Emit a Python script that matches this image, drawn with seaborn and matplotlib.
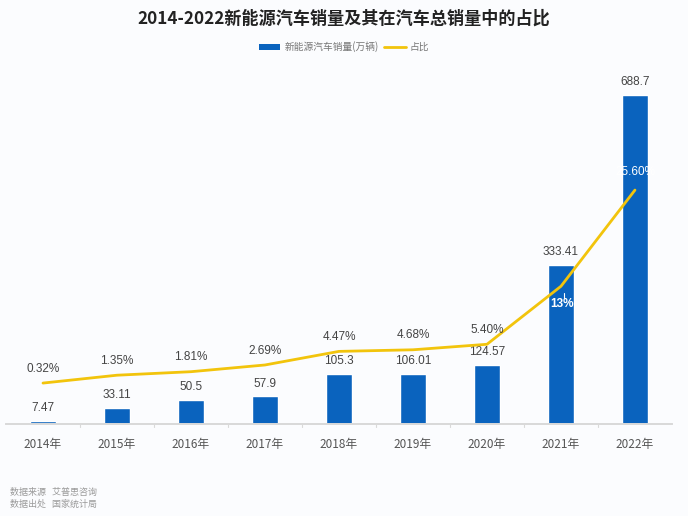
import numpy as np
import pandas as pd
import matplotlib
matplotlib.use("Agg")
import matplotlib.pyplot as plt
import seaborn as sns
from matplotlib.patches import Patch
from matplotlib.lines import Line2D

years = ["2014年", "2015年", "2016年", "2017年", "2018年", "2019年", "2020年", "2021年", "2022年"]
sales = [7.47, 33.11, 50.5, 57.9, 105.3, 106.01, 124.57, 333.41, 688.7]
sales_labels = ["7.47", "33.11", "50.5", "57.9", "105.3", "106.01", "124.57", "333.41", "688.7"]
share = [0.32, 1.35, 1.81, 2.69, 4.47, 4.68, 5.40, 13.0, 25.60]
share_labels = ["0.32%", "1.35%", "1.81%", "2.69%", "4.47%", "4.68%", "5.40%", "13%", "25.60%"]

sns.set_theme(style="white")
plt.rcParams['font.family'] = ['Noto Sans CJK SC', 'DejaVu Sans']
num_font = ['Liberation Sans', 'Noto Sans CJK SC']

bg = "#fbfcfe"
blue = "#0a63be"
yellow = "#f2c40c"

fig = plt.figure(figsize=(6.88, 5.16), dpi=100, facecolor=bg)
ax = fig.add_axes([0.0087, 0.178, 0.968, 0.686], facecolor=bg)

df = pd.DataFrame({"year": years, "sales": sales})
sns.barplot(data=df, x="year", y="sales", color=blue, width=0.34, saturation=1, ax=ax)
ax.set_ylim(0, 741)
ax.set_xlim(-0.5, len(years) - 0.5)
for i, (v, t) in enumerate(zip(sales, sales_labels)):
    ax.annotate(t, (i, v), xytext=(0, 5), textcoords="offset points",
                ha="center", va="bottom", fontsize=8.5, color="#444444", family=num_font)

ax2 = ax.twinx()
sns.lineplot(x=np.arange(len(years)), y=share, color=yellow, linewidth=2, ax=ax2)
ax2.set_ylim(-5.06, 41.3)
for i, (v, t) in enumerate(zip(share, share_labels)):
    if i == 7:
        ax2.annotate(t, (i, v), xytext=(1, -13), textcoords="offset points",
                     ha="center", va="center", fontsize=8.5, color="white",
                     fontweight="bold", family=num_font)
        ax2.plot([i + 0.04, i + 0.04], [v - 0.9, v - 1.6], color="white", lw=0.8)
    elif i == 8:
        ax2.annotate(t, (i, v), xytext=(0, 13), textcoords="offset points",
                     ha="center", va="center", fontsize=8.5, color="white", family=num_font)
    else:
        ax2.annotate(t, (i, v), xytext=(0, 6), textcoords="offset points",
                     ha="center", va="bottom", fontsize=8.5, color="#444444", family=num_font)

for a in (ax, ax2):
    a.set_yticks([])
    a.set_ylabel("")
    for s in ("top", "left", "right"):
        a.spines[s].set_visible(False)
    a.spines["bottom"].set_color("#d9d9d9")
ax.set_xlabel("")
ax.tick_params(axis="x", length=0, labelsize=8.5, labelcolor="#555555", pad=10)
for b in np.arange(0.5, len(years) - 1, 1):
    ax.plot([b, b], [0, -6], color="#d9d9d9", lw=0.8, clip_on=False)

fig.text(0.5, 0.963, "2014-2022新能源汽车销量及其在汽车总销量中的占比",
         ha="center", va="center", fontsize=12.3, fontweight="bold", color="#222222")

handles = [Patch(facecolor=blue, edgecolor="none"),
           Line2D([0], [0], color=yellow, lw=2)]
fig.legend(handles, ["新能源汽车销量(万辆)", "占比"], loc="center", bbox_to_anchor=(0.5, 0.909),
           ncol=2, frameon=False, fontsize=7, labelcolor="#777777",
           handlelength=2.2, handleheight=0.6, columnspacing=0.6, handletextpad=0.4)

fig.text(0.014, 0.046, "数据来源   艾普思咨询", fontsize=6.5, color="#9a9a9a", va="center")
fig.text(0.014, 0.022, "数据出处   国家统计局", fontsize=6.5, color="#9a9a9a", va="center")

fig.savefig("out.png", dpi=100, facecolor=bg)
